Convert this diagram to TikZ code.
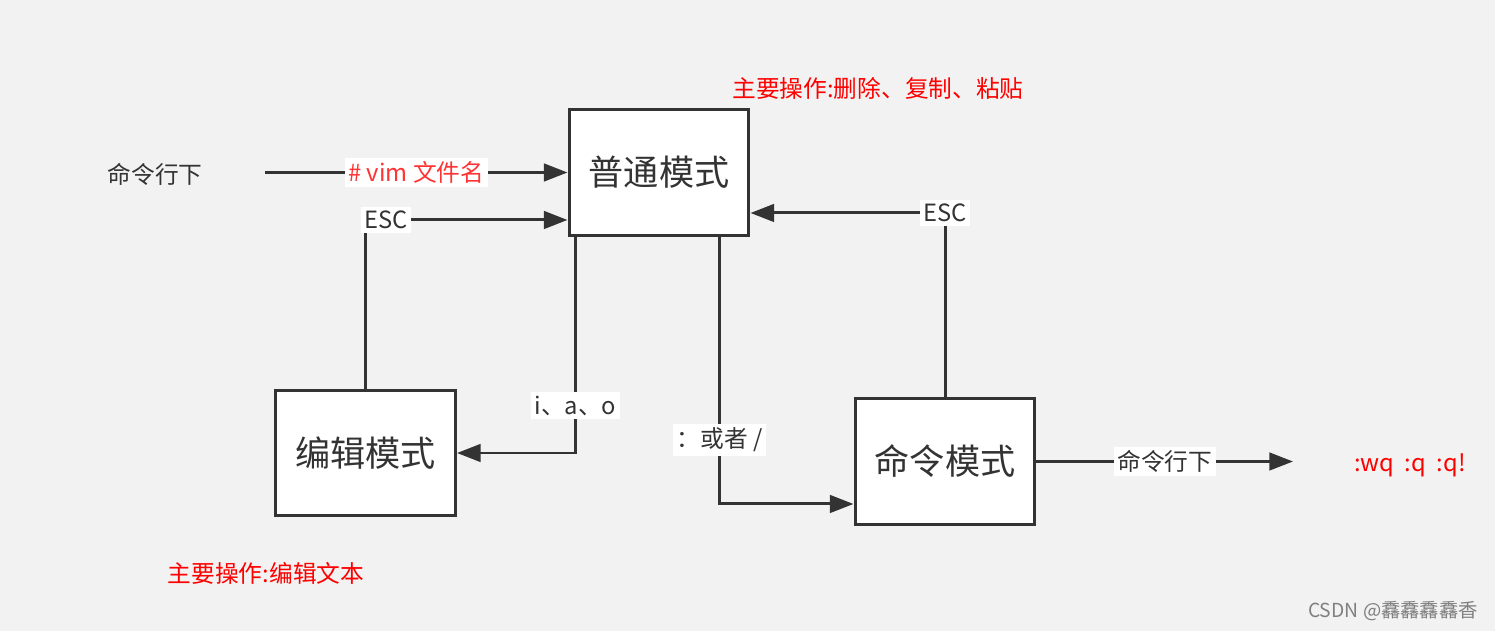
\documentclass[tikz,border=0pt]{standalone}
\usepackage{fontspec}
\setmainfont{Noto Sans CJK SC}
\usetikzlibrary{arrows.meta}
\definecolor{bgcol}{HTML}{F2F2F2}
\definecolor{linecol}{HTML}{333333}
\definecolor{inkcol}{HTML}{333333}
\begin{document}
\begin{tikzpicture}[x=0.02cm,y=-0.02cm]
  \tikzstyle{mode}=[draw=linecol,line width=1.7pt,fill=white,minimum width=3.6cm,minimum height=2.52cm,font=\fontsize{20}{24}\selectfont,text=inkcol]
  \tikzstyle{flow}=[draw=linecol,line width=1.7pt,-{Triangle[length=13.5pt,width=10pt]}]
  \tikzstyle{lbl}=[fill=white,inner sep=2pt,font=\fontsize{13.5}{16}\selectfont,text=inkcol]
  \tikzstyle{note}=[text=red,font=\fontsize{13.5}{16}\selectfont]
  \fill[bgcol] (0,0) rectangle (1495,631);
  \node[mode] (normal) at (659,172.5) {普通模式};
  \node[mode] (edit) at (365.5,453) {编辑模式};
  \node[mode] (cmd) at (945,461.5) {命令模式};
  \node[text=inkcol,font=\fontsize{13.5}{16}\selectfont] (shell) at (155,174) {命令行下};
  \coordinate (start) at (265,172.5);
  \coordinate (out) at (1293,461.5);
  \draw[flow] (start) -- node[lbl,text=red!80] {\# vim 文件名} (normal.west);
  \draw[flow] (edit.north) |- node[lbl,pos=0.55] {ESC} ([yshift=-0.95cm]normal.west);
  \draw[flow] ([xshift=0.16cm]normal.south west) |- node[lbl,pos=0.39] {i、a、o} (edit.east);
  \draw[flow] ([xshift=-0.62cm]normal.south east) |- node[lbl,pos=0.38] {：或者 /} ([yshift=-0.85cm]cmd.west);
  \draw[flow] (cmd.north) |- node[lbl,pos=0.5] {ESC} ([yshift=-0.81cm]normal.east);
  \draw[flow] (cmd.east) -- node[lbl] {命令行下} (out);
  \node[note] (quit) at (1410,465) {:wq\ \ :q\ \ :q!};
  \node[note] (normalnote) at (878,88) {主要操作:删除、复制、粘贴};
  \node[note] (editnote) at (266,573) {主要操作:编辑文本};
  \node[text=gray,font=\fontsize{11}{13}\selectfont] (mark) at (1393,611) {CSDN @馫馫馫馫香};
\end{tikzpicture}
\end{document}
